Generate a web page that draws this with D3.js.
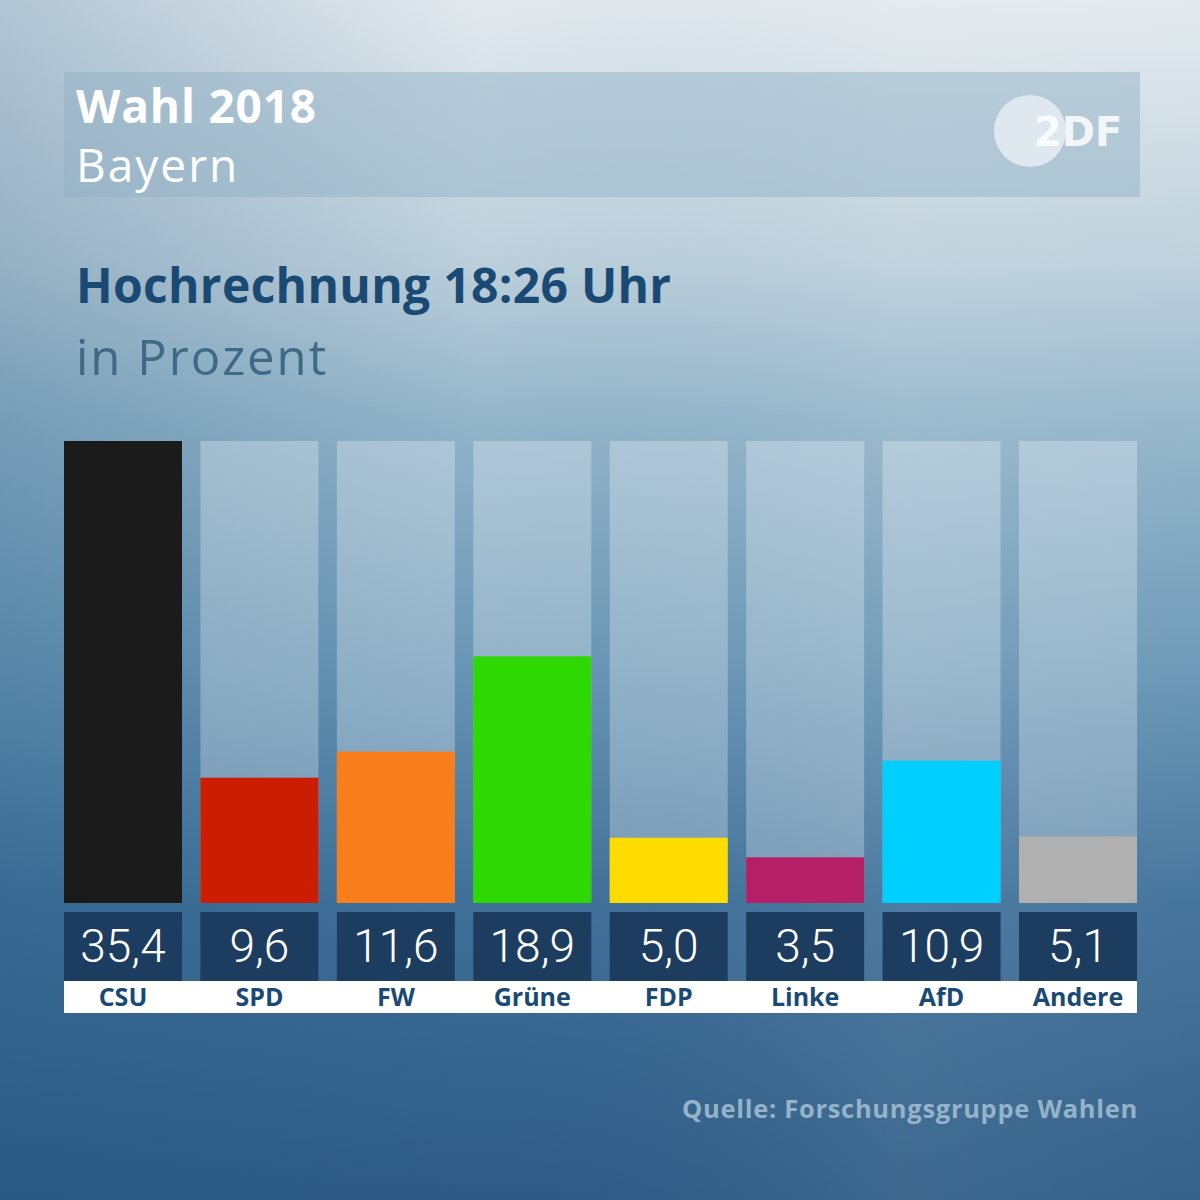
<!DOCTYPE html>
<html>
<head>
<meta charset="utf-8">
<script src="https://cdn.jsdelivr.net/npm/d3@7"></script>
<style>
  html, body { margin: 0; padding: 0; background: #2f5f88; }
  svg { display: block; }
</style>
</head>
<body>
<svg width="1200" height="1200"></svg>
<script>
const parties = ['CSU', 'SPD', 'FW', 'Grüne', 'FDP', 'Linke', 'AfD', 'Andere']
const values = [35.4, 9.6, 11.6, 18.9, 5.0, 3.5, 10.9, 5.1]
const colors = ['#1b1b1b', '#cc1d03', '#fa7d1c', '#2ed802', '#ffdc00', '#b41f66', '#00d0ff', '#b0b0b0']

const svg = d3.select('svg')
const width = +svg.attr('width')
const height = +svg.attr('height')

// background gradient
const defs = svg.append('defs')
const bg = defs.append('linearGradient')
    .attr('id', 'bg')
    .attr('x1', 0).attr('y1', 0).attr('x2', 0).attr('y2', 1)
bg.append('stop').attr('offset', '0%').attr('stop-color', '#e3eaef')
bg.append('stop').attr('offset', '22%').attr('stop-color', '#bccfdb')
bg.append('stop').attr('offset', '35%').attr('stop-color', '#93b5ca')
bg.append('stop').attr('offset', '55%').attr('stop-color', '#6a97b6')
bg.append('stop').attr('offset', '75%').attr('stop-color', '#3f7099')
bg.append('stop').attr('offset', '100%').attr('stop-color', '#2d5b85')

// darker on the left, lighter on the right
const side = defs.append('linearGradient')
    .attr('id', 'side')
    .attr('x1', 0).attr('y1', 0).attr('x2', 1).attr('y2', 0)
side.append('stop').attr('offset', '0%').attr('stop-color', '#1f5580').attr('stop-opacity', 0.25)
side.append('stop').attr('offset', '40%').attr('stop-color', '#1f5580').attr('stop-opacity', 0)
side.append('stop').attr('offset', '75%').attr('stop-color', '#ffffff').attr('stop-opacity', 0.08)
side.append('stop').attr('offset', '100%').attr('stop-color', '#ffffff').attr('stop-opacity', 0.04)

svg.append('rect')
    .attr('width', width).attr('height', height)
    .attr('fill', 'url(#bg)')
svg.append('rect')
    .attr('width', width).attr('height', height)
    .attr('fill', 'url(#side)')

// header band
svg.append('rect')
    .attr('x', 64).attr('y', 72)
    .attr('width', 1076).attr('height', 125)
    .attr('fill', '#8fafc4').attr('opacity', 0.45)

svg.append('text')
    .attr('x', 76).attr('y', 123)
    .attr('font-family', 'Open Sans, sans-serif')
    .attr('font-weight', 700).attr('font-size', 46)
    .attr('letter-spacing', 0.8)
    .attr('fill', '#fff')
    .text('Wahl 2018')

svg.append('text')
    .attr('x', 76).attr('y', 182)
    .attr('font-family', 'Open Sans, sans-serif')
    .attr('font-size', 46)
    .attr('letter-spacing', 2)
    .attr('fill', '#fff')
    .text('Bayern')

// ZDF logo
svg.append('circle')
    .attr('cx', 1030).attr('cy', 131).attr('r', 36)
    .attr('fill', '#e6edf2').attr('opacity', 0.85)
svg.append('text')
    .attr('x', 1034).attr('y', 146)
    .attr('font-family', 'DejaVu Sans, sans-serif')
    .attr('font-weight', 700).attr('font-size', 40)
    .attr('fill', '#fff').attr('opacity', 0.85)
    .text('2DF')

svg.append('text')
    .attr('x', 76).attr('y', 303)
    .attr('font-family', 'Open Sans, sans-serif')
    .attr('font-weight', 700).attr('font-size', 48)
    .attr('letter-spacing', 0.3)
    .attr('fill', '#1a4a74')
    .text('Hochrechnung 18:26 Uhr')

svg.append('text')
    .attr('x', 76).attr('y', 375)
    .attr('font-family', 'Open Sans, sans-serif')
    .attr('font-size', 49)
    .attr('letter-spacing', 2)
    .attr('fill', '#3f6a86')
    .text('in Prozent')

// bars
const x = d3.scaleBand()
    .domain(parties)
    .range([64, 1137])
    .paddingInner(0.135)
    .paddingOuter(0)

const y = d3.scaleLinear()
    .domain([0, d3.max(values)])
    .range([903, 441])

// label strip
svg.append('rect')
    .attr('x', x(parties[0])).attr('y', 981)
    .attr('width', x(parties[parties.length - 1]) + x.bandwidth() - x(parties[0]))
    .attr('height', 32)
    .attr('fill', '#fff')

const g = svg.append('g')

g.selectAll('.track')
    .data(parties)
    .join('rect')
    .attr('class', 'track')
    .attr('x', d => x(d))
    .attr('y', y(d3.max(values)))
    .attr('width', x.bandwidth())
    .attr('height', y(0) - y(d3.max(values)))
    .attr('fill', '#ffffff').attr('opacity', 0.28)

g.selectAll('.bar')
    .data(values)
    .join('rect')
    .attr('class', 'bar')
    .attr('x', (d, i) => x(parties[i]))
    .attr('y', d => y(d))
    .attr('width', x.bandwidth())
    .attr('height', d => y(0) - y(d))
    .attr('fill', (d, i) => colors[i])

g.selectAll('.vbox')
    .data(values)
    .join('rect')
    .attr('class', 'vbox')
    .attr('x', (d, i) => x(parties[i]))
    .attr('y', 912)
    .attr('width', x.bandwidth())
    .attr('height', 69)
    .attr('fill', '#1c3d60')

const fmt = d3.format('.1f')
g.selectAll('.vlabel')
    .data(values)
    .join('text')
    .attr('class', 'vlabel')
    .attr('x', (d, i) => x(parties[i]) + x.bandwidth() / 2)
    .attr('y', 962)
    .attr('text-anchor', 'middle')
    .attr('font-family', 'Roboto, sans-serif')
    .attr('font-weight', 300).attr('font-size', 46)
    .attr('fill', '#fff')
    .text(d => fmt(d).replace('.', ','))

g.selectAll('.plabel')
    .data(parties)
    .join('text')
    .attr('class', 'plabel')
    .attr('x', d => x(d) + x.bandwidth() / 2)
    .attr('y', 1006)
    .attr('text-anchor', 'middle')
    .attr('font-family', 'Open Sans, sans-serif')
    .attr('font-weight', 700).attr('font-size', 25)
    .attr('fill', '#1a4a74')
    .text(d => d)

svg.append('text')
    .attr('x', 1138).attr('y', 1118)
    .attr('text-anchor', 'end')
    .attr('font-family', 'Open Sans, sans-serif')
    .attr('font-weight', 700).attr('font-size', 25.5)
    .attr('letter-spacing', 0.7)
    .attr('fill', '#95b3c9')
    .text('Quelle: Forschungsgruppe Wahlen')
</script>
</body>
</html>
